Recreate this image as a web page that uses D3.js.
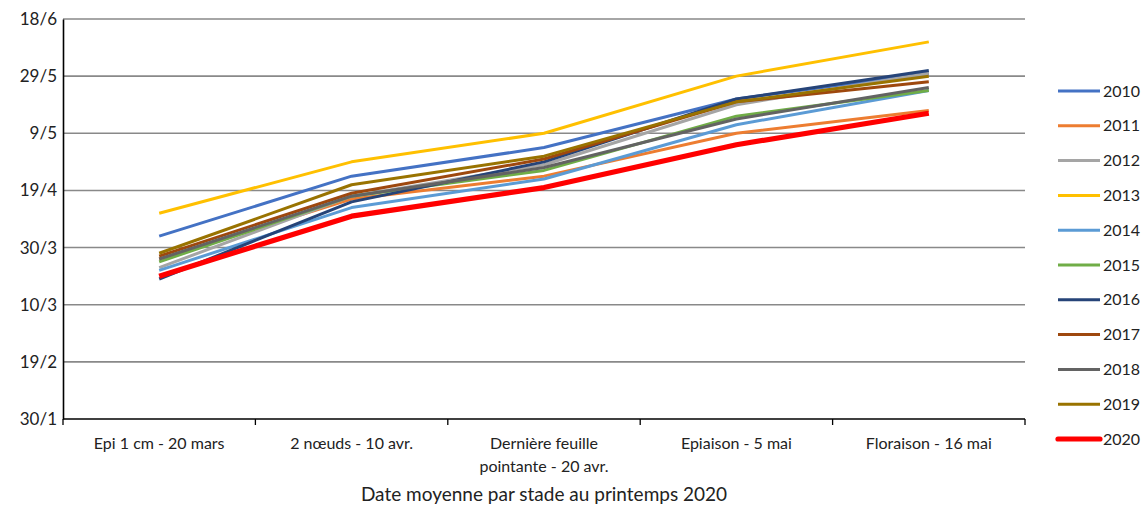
<!DOCTYPE html>
<html>
<head>
<meta charset="utf-8">
<script src="https://cdn.jsdelivr.net/npm/d3@7"></script>
<style>
  html, body { margin: 0; padding: 0; background: #fff; }
  svg { display: block; font-family: Lato, "Open Sans", sans-serif; }
</style>
</head>
<body>
<svg id="chart" width="1141" height="506"></svg>
<script>
// ---- data ----
const categories = ["Epi 1 cm - 20 mars", "2 nœuds - 10 avr.", "Dernière feuille pointante - 20 avr.", "Epiaison - 5 mai", "Floraison - 16 mai"];
const years = ["2010","2011","2012","2013","2014","2015","2016","2017","2018","2019","2020"];
const s2010 = ["3/4","24/4","4/5","21/5","30/5"];
const s2011 = ["26/3","16/4","24/4","9/5","17/5"];
const s2012 = ["23/3","17/4","28/4","19/5","30/5"];
const s2013 = ["11/4","29/4","9/5","29/5","10/6"];
const s2014 = ["22/3","13/4","23/4","12/5","24/5"];
const s2015 = ["25/3","17/4","26/4","15/5","24/5"];
const s2016 = ["19/3","15/4","29/4","21/5","31/5"];
const s2017 = ["27/3","18/4","30/4","20/5","27/5"];
const s2018 = ["26/3","17/4","27/4","14/5","25/5"];
const s2019 = ["28/3","21/4","1/5","20/5","29/5"];
const s2020 = ["20/3","10/4","20/4","5/5","16/5"];
const seriesValues = [s2010,s2011,s2012,s2013,s2014,s2015,s2016,s2017,s2018,s2019,s2020];
const yTickLabels = ["30/1","19/2","10/3","30/3","19/4","9/5","29/5","18/6"];
const xTitle = "Date moyenne par stade au printemps 2020";

// ---- styles ----
const colors = ["#4472C4","#ED7D31","#A5A5A5","#FFC000","#5B9BD5","#70AD47","#264478","#9E480E","#636363","#997300","#FF0000"];
const widths = [3,3,3,3,3,3,3,3,3,3,5.2];

const parse = s => { const [d,m] = s.split("/").map(Number); return new Date(2020, m-1, d); };

const svg = d3.select("#chart");
const M = {left: 63, right: 1025, top: 19, bottom: 419};

const x = d3.scaleBand().domain(categories).range([M.left, M.right]).padding(0);
const yTicks = yTickLabels.map(parse);
const y = d3.scaleTime().domain([yTicks[0], yTicks[yTicks.length-1]]).range([M.bottom, M.top]);

// gridlines
svg.append("g").selectAll("line").data(yTicks.slice(1)).join("line")
  .attr("x1", M.left).attr("x2", M.right)
  .attr("y1", d => y(d)).attr("y2", d => y(d))
  .attr("stroke", "#898989").attr("stroke-width", 1.6);

// y axis
const yAxis = svg.append("g").attr("transform", `translate(${M.left},0)`)
  .call(d3.axisLeft(y).tickValues(yTicks).tickSize(0).tickPadding(6)
    .tickFormat((d,i) => yTickLabels[i]));
yAxis.select(".domain").attr("stroke", "#000").attr("stroke-width", 1.6);
yAxis.selectAll("text").attr("font-size", 17).attr("fill", "#222").attr("font-family", "Lato");

// x axis
const xAxisG = svg.append("g").attr("transform", `translate(0,${M.bottom})`);
xAxisG.append("line").attr("x1", M.left).attr("x2", M.right).attr("stroke", "#000").attr("stroke-width", 1.6);
const bounds = categories.map(c => x(c)).concat([x(categories[categories.length-1]) + x.bandwidth()]);
xAxisG.selectAll("line.tk").data(bounds).join("line").attr("class","tk")
  .attr("x1", d => d).attr("x2", d => d).attr("y1", 0).attr("y2", 6)
  .attr("stroke", "#000").attr("stroke-width", 1.3);

function wrapLines(text, maxW) {
  const words = text.split(" ");
  const lines = [];
  let cur = "";
  const probe = svg.append("text").attr("font-size", 16).attr("font-family","Lato");
  words.forEach(w => {
    const t = cur ? cur + " " + w : w;
    probe.text(t);
    if (probe.node().getComputedTextLength() > maxW && cur) { lines.push(cur); cur = w; }
    else cur = t;
  });
  if (cur) lines.push(cur);
  probe.remove();
  return lines;
}
categories.forEach(c => {
  const lines = wrapLines(c, 165);
  const t = xAxisG.append("text").attr("text-anchor","middle").attr("font-size", 16)
    .attr("fill","#222").attr("font-family","Lato");
  lines.forEach((ln, i) => {
    t.append("tspan").attr("x", x(c) + x.bandwidth()/2).attr("y", 30 + i*23).text(ln);
  });
});

svg.append("text").attr("x", (M.left + M.right)/2).attr("y", 501)
  .attr("text-anchor","middle").attr("font-size", 19).attr("fill","#222")
  .attr("font-family","Lato").text(xTitle);

// lines
const line = d3.line().x((d,i) => x(categories[i]) + x.bandwidth()/2).y(d => y(parse(d)));
svg.append("g").selectAll("path").data(seriesValues).join("path")
  .attr("d", d => line(d)).attr("fill","none")
  .attr("stroke", (d,i) => colors[i]).attr("stroke-width", (d,i) => widths[i])
  .attr("stroke-linejoin","round").attr("stroke-linecap","butt");

// legend
const lg = svg.append("g");
years.forEach((yr, i) => {
  const yy = 91 + i*34.8;
  lg.append("line").attr("x1", 1058).attr("x2", 1100).attr("y1", yy).attr("y2", yy)
    .attr("stroke", colors[i]).attr("stroke-width", widths[i]).attr("stroke-linecap", i===10 ? "round" : "butt");
  lg.append("text").attr("x", 1103).attr("y", yy).attr("dy","0.35em")
    .attr("font-size", 16).attr("fill","#222").attr("font-family","Lato").text(yr);
});
</script>
</body>
</html>
